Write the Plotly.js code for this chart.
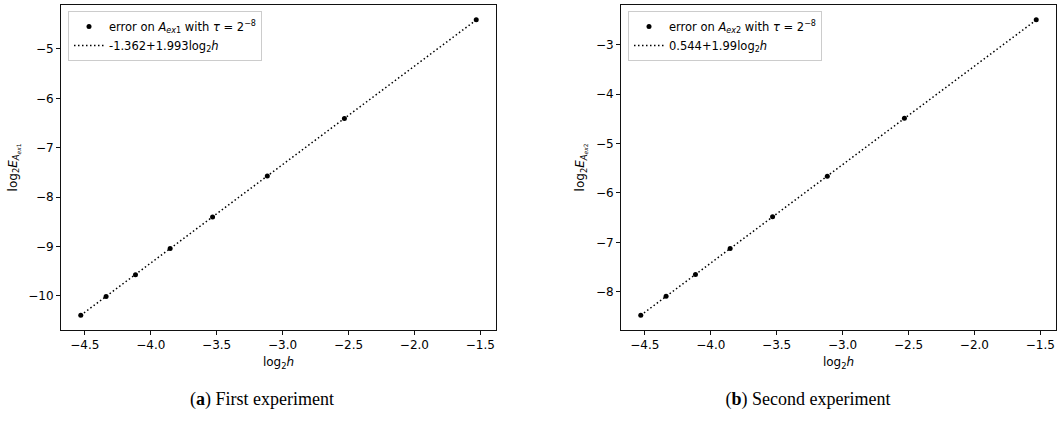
<!DOCTYPE html>
<html>
<head>
<meta charset="utf-8">
<script src="https://cdn.plot.ly/plotly-3.0.1.min.js"></script>
<style>
  html, body { margin: 0; padding: 0; background: #fff; }
  #chart { width: 1059px; height: 425px; position: relative; }
  .cap { position: absolute; top: 389px; font-family: "Liberation Serif", "Times New Roman", serif; font-size: 18px; color: #000; white-space: nowrap; transform: translateX(-50%); }
</style>
</head>
<body>
<div id="chart"></div>
<div class="cap" style="left:262px;">(<b>a</b>) First experiment</div>
<div class="cap" style="left:808px;">(<b>b</b>) Second experiment</div>
<script>
// log2 h values (shared by both experiments)
const log2h = [-4.531, -4.339, -4.116, -3.853, -3.531, -3.116, -2.531, -1.531];
// Experiment 1: measured log2 error and fitted line values
const err1 = [-10.39, -10.01, -9.57, -9.04, -8.40, -7.57, -6.41, -4.41];
const fit1 = [-10.392, -10.010, -9.565, -9.041, -8.399, -7.572, -6.406, -4.413];
// Experiment 2
const err2 = [-8.47, -8.09, -7.65, -7.12, -6.48, -5.66, -4.49, -2.50];
const fit2 = [-8.473, -8.091, -7.647, -7.123, -6.483, -5.657, -4.493, -2.503];

const name1 = "error on <i>A</i><sub><i>ex</i>1</sub> with <i>τ</i> = 2<sup>−8</sup>";
const fitName1 = "-1.362+1.993log<sub>2</sub><i>h</i>";
const name2 = "error on <i>A</i><sub><i>ex</i>2</sub> with <i>τ</i> = 2<sup>−8</sup>";
const fitName2 = "0.544+1.99log<sub>2</sub><i>h</i>";

const W = 1059, H = 425;
const font = {family: "DejaVu Sans", size: 12, color: "#000"};
const lfont = {family: "DejaVu Sans", size: 11.5, color: "#000"};

const traces = [
  {x: log2h, y: err1, mode: "markers", type: "scatter", name: name1, xaxis: "x", yaxis: "y", legend: "legend",
   marker: {color: "#000", size: 5}},
  {x: log2h, y: fit1, mode: "lines", type: "scatter", name: fitName1, xaxis: "x", yaxis: "y", legend: "legend",
   line: {color: "#000", dash: "1.5px,2.5px", width: 1.5}},
  {x: log2h, y: err2, mode: "markers", type: "scatter", name: name2, xaxis: "x2", yaxis: "y2", legend: "legend2",
   marker: {color: "#000", size: 5}},
  {x: log2h, y: fit2, mode: "lines", type: "scatter", name: fitName2, xaxis: "x2", yaxis: "y2", legend: "legend2",
   line: {color: "#000", dash: "1.5px,2.5px", width: 1.5}}
];

function xax(dom, anchor) {
  return {domain: dom, anchor: anchor, range: [-4.681, -1.381], dtick: 0.5, tick0: 0, tickformat: ".1f",
    showgrid: false, zeroline: false, showline: true, mirror: true, linecolor: "#111", linewidth: 1,
    ticks: "outside", ticklen: 4, tickwidth: 1, tickcolor: "#111", tickfont: font,
    title: {text: "log<sub>2</sub><i>h</i>", font: font, standoff: 6}};
}
function yax(range, anchor, label) {
  return {domain: [1 - 330 / H, 1 - 5 / H], anchor: anchor, range: range, dtick: 1, tick0: 0,
    showgrid: false, zeroline: false, showline: true, mirror: true, linecolor: "#111", linewidth: 1,
    ticks: "outside", ticklen: 4, tickwidth: 1, tickcolor: "#111", tickfont: font,
    title: {text: label, font: font, standoff: 8}};
}

const legendBase = {font: lfont, bgcolor: "rgba(255,255,255,0.8)", bordercolor: "#cccccc", borderwidth: 1,
  xanchor: "left", yanchor: "top", y: 1 - 11 / H, tracegroupgap: 0};

const layout = {
  width: W, height: H,
  margin: {l: 0, r: 0, t: 0, b: 0},
  paper_bgcolor: "#fff", plot_bgcolor: "#fff",
  font: font,
  showlegend: true,
  xaxis: xax([61 / W, 496 / W], "y"),
  yaxis: yax([-10.69, -4.11], "x", "log<sub>2</sub><i>E</i><sub><i>A</i><sub><i>ex</i>1</sub></sub>"),
  xaxis2: xax([621 / W, 1056 / W], "y2"),
  yaxis2: yax([-8.77, -2.20], "x2", "log<sub>2</sub><i>E</i><sub><i>A</i><sub><i>ex</i>2</sub></sub>"),
  legend: Object.assign({}, legendBase, {x: 68 / W}),
  legend2: Object.assign({}, legendBase, {x: 628 / W})
};

Plotly.newPlot("chart", traces, layout, {staticPlot: true, displayModeBar: false});
</script>
</body>
</html>
